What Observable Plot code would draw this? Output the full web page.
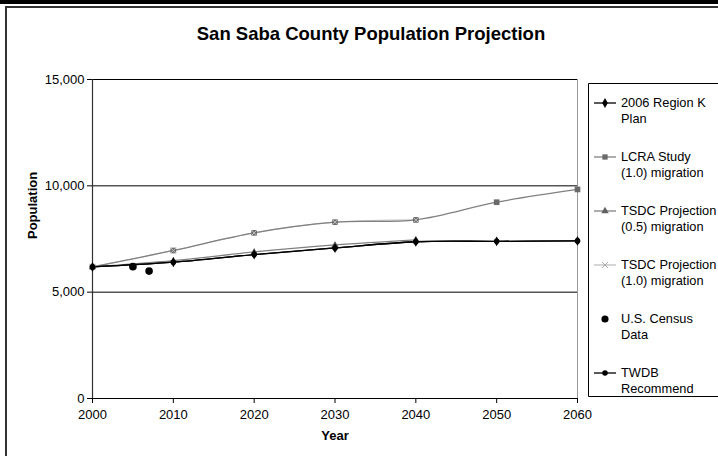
<!DOCTYPE html>
<html>
<head>
<meta charset="utf-8">
<script src="https://cdn.jsdelivr.net/npm/d3@7"></script>
<script src="https://cdn.jsdelivr.net/npm/@observablehq/plot@0.6"></script>
<style>
  html, body { margin: 0; padding: 0; background: #fff; overflow: hidden; width: 718px; height: 456px; }
  #wrap { position: relative; width: 718px; height: 456px; overflow: hidden; font-family: "Liberation Sans", Arial, sans-serif; }
  #band { position: absolute; left: 0; top: 0; width: 718px; height: 4px; background: #000; }
  #frame { position: absolute; left: 5px; top: 6px; width: 730px; height: 470px; border-left: 2px solid #333; border-top: 2px solid #333; box-sizing: border-box; }
  #title { position: absolute; left: 0; width: 742px; top: 23px; text-align: center; font-weight: bold; font-size: 18.5px; color: #000; }
  #chart { position: absolute; left: 0; top: 0; }
  #legend { position: absolute; left: 588px; top: 83px; width: 160px; height: 316px; }
</style>
</head>
<body>
<div id="wrap">
  <div id="band"></div>
  <div id="frame"></div>
  <div id="chart"></div>
  <div id="title">San Saba County Population Projection</div>
  <div id="legend"></div>
</div>
<script>
// ---- data ----
const years = [2000, 2010, 2020, 2030, 2040, 2050, 2060];
const regionK = [6186, 6410, 6770, 7080, 7370, 7390, 7410];
const lcra = [6186, 6960, 7790, 8290, 8400, 9230, 9830];
const tsdcYears = [2000, 2010, 2020, 2030, 2040];
const tsdc05 = [6186, 6480, 6890, 7220, 7460];
const tsdc10 = [6186, 6960, 7790, 8290, 8400];
const censusYears = [2005, 2007];
const census = [6200, 5990];
const twdb = [6186, 6410, 6770, 7080, 7370, 7390, 7410];
const yTicks = [0, 5000, 10000, 15000];
const xTicks = [2000, 2010, 2020, 2030, 2040, 2050, 2060];
const seriesNames = ["2006 Region K Plan", "LCRA Study (1.0) migration", "TSDC Projection (0.5) migration", "TSDC Projection (1.0) migration", "U.S. Census Data", "TWDB Recommend"];

const rows = (xs, vs) => xs.map((x, i) => ({x, y: vs[i]}));
const dK = rows(years, regionK), dL = rows(years, lcra), d05 = rows(tsdcYears, tsdc05),
      d10 = rows(tsdcYears, tsdc10), dC = rows(censusYears, census), dT = rows(years, twdb);

const curve = "catmull-rom";
const chart = Plot.plot({
  width: 718, height: 456,
  marginLeft: 92, marginRight: 141, marginTop: 79, marginBottom: 58,
  style: {fontFamily: "'Liberation Sans', Arial, sans-serif", fontSize: "13px", color: "#000", background: "transparent"},
  x: {domain: [2000, 2060], ticks: xTicks, tickFormat: d => String(d), label: null},
  y: {domain: [0, 15000], ticks: yTicks, tickFormat: d3.format(","), label: null},
  marks: [
    Plot.ruleY(yTicks.slice(1), {stroke: "#000", strokeWidth: 1}),
    Plot.ruleX([2060], {stroke: "#999", strokeWidth: 1}),
    Plot.axisX({ticks: xTicks, tickFormat: d => String(d), tickSize: 5, tickPadding: 6, label: null, stroke: "#000", fontSize: 13}),
    Plot.axisY({ticks: yTicks, tickFormat: d3.format(","), tickSize: 5, tickPadding: 3, label: null, stroke: "#000", fontSize: 13}),
    Plot.ruleX([2000], {stroke: "#333", strokeWidth: 1.2}),
    Plot.ruleY([0], {stroke: "#000", strokeWidth: 1.2}),
    Plot.lineY(d10, {x: "x", y: "y", stroke: "#c8c8c8", strokeWidth: 1.2, curve}),
    Plot.lineY(dL, {x: "x", y: "y", stroke: "#808080", strokeWidth: 1.3, curve}),
    Plot.lineY(d05, {x: "x", y: "y", stroke: "#808080", strokeWidth: 1.3, curve}),
    Plot.lineY(dK, {x: "x", y: "y", stroke: "#000", strokeWidth: 1.3, curve}),
    Plot.lineY(dT, {x: "x", y: "y", stroke: "#000", strokeWidth: 1.3, curve}),
    Plot.dot(dL, {x: "x", y: "y", symbol: "square", fill: "#6a6a6a", r: 3.2}),
    Plot.dot(d10, {x: "x", y: "y", symbol: "times", stroke: "#c8c8c8", strokeWidth: 1, r: 2.6}),
    Plot.dot(d05, {x: "x", y: "y", symbol: "triangle", fill: "#606060", r: 2.6}),
    Plot.dot(dK, {x: "x", y: "y", symbol: "diamond", fill: "#000", r: 3}),
    Plot.dot(dT, {x: "x", y: "y", symbol: "circle", fill: "#000", r: 2.8}),
    Plot.dot(dC, {x: "x", y: "y", symbol: "circle", fill: "#000", r: 3.8}),
    Plot.text(["Year"], {frameAnchor: "bottom", dy: 41, fontWeight: "bold", fontSize: 13}),
    Plot.text(["Population"], {frameAnchor: "left", dx: -60, rotate: -90, fontWeight: "bold", fontSize: 13})
  ]
});
document.getElementById("chart").appendChild(chart);

// ---- legend ----
const legendItems = [
  {lines: ["2006 Region K", "Plan"], stroke: "#000", symbol: d3.symbolDiamond, fill: "#000", size: 28},
  {lines: ["LCRA Study", "(1.0) migration"], stroke: "#808080", symbol: d3.symbolSquare, fill: "#6a6a6a", size: 28},
  {lines: ["TSDC Projection", "(0.5) migration"], stroke: "#808080", symbol: d3.symbolTriangle, fill: "#606060", size: 24},
  {lines: ["TSDC Projection", "(1.0) migration"], stroke: "#c0c0c0", symbol: d3.symbolTimes, fill: "none", sym: "#aaa", size: 24},
  {lines: ["U.S. Census", "Data"], stroke: null, symbol: d3.symbolCircle, fill: "#000", size: 40},
  {lines: ["TWDB", "Recommend"], stroke: "#000", symbol: d3.symbolCircle, fill: "#000", size: 24}
];
const lsvg = d3.select("#legend").append("svg").attr("width", 160).attr("height", 316)
  .style("display", "block")
  .style("font-family", "'Liberation Sans', Arial, sans-serif");
lsvg.append("path").attr("d", "M160,0.5H0.5V313.5H160").attr("fill", "#fff").attr("stroke", "#000");
legendItems.forEach((it, i) => {
  const cy = 20 + i * 54;
  const g = lsvg.append("g");
  if (it.stroke) g.append("line").attr("x1", 6).attr("x2", 28).attr("y1", cy).attr("y2", cy).attr("stroke", it.stroke).attr("stroke-width", 1.3);
  g.append("path").attr("d", d3.symbol(it.symbol, it.size)()).attr("transform", `translate(17,${cy})`)
    .attr("fill", it.fill).attr("stroke", it.sym || "none").attr("stroke-width", 1);
  it.lines.forEach((t, j) => {
    g.append("text").attr("x", 33).attr("y", cy + 4 + j * 16).attr("font-size", 12.8).attr("fill", "#000").text(t);
  });
});
</script>
</body>
</html>
